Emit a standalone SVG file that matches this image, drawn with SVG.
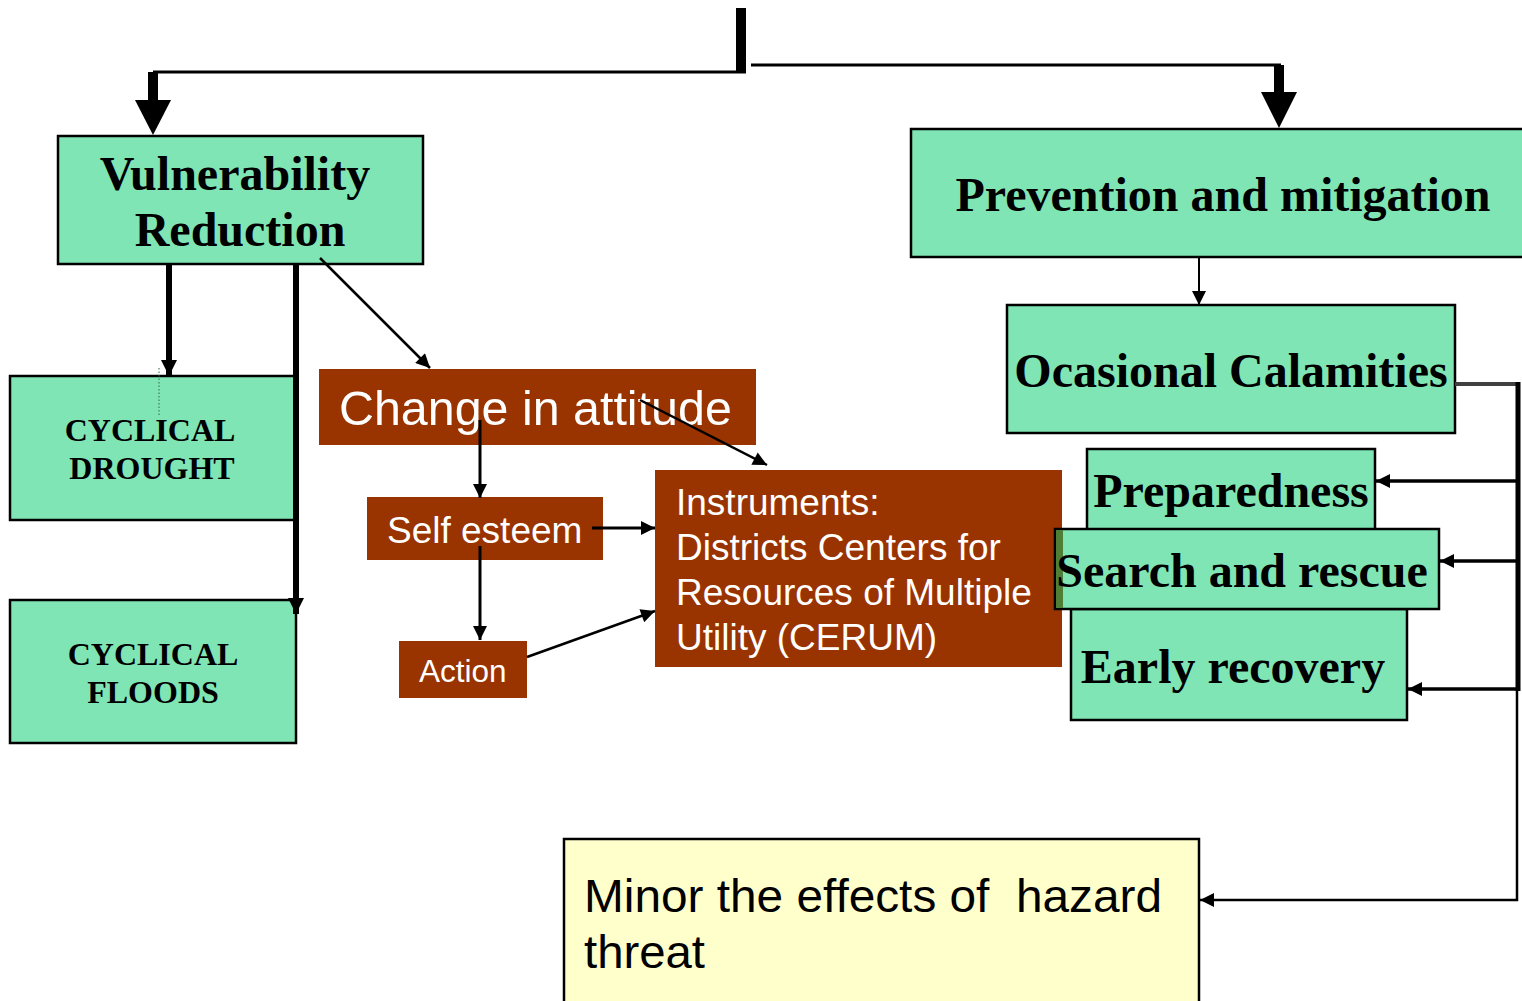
<svg xmlns="http://www.w3.org/2000/svg" width="1522" height="1001" viewBox="0 0 1522 1001">
<style>
.g{fill:#80E5B4;stroke:#000;stroke-width:2.5}
.b{fill:#993300}
.y{fill:#FFFFCC;stroke:#000;stroke-width:2.5}
.st{font-family:"Liberation Serif","Times New Roman",serif;font-weight:bold;fill:#000}
.ss{font-family:"Liberation Sans",Arial,sans-serif;fill:#fff}
.ln{stroke:#000;fill:none}
</style>
<defs>
<marker id="a2" viewBox="0 0 10 10" refX="10" refY="5" markerWidth="17" markerHeight="14" markerUnits="userSpaceOnUse" orient="auto">
<path d="M0,0 L10,5 L0,10 z" fill="#000"/>
</marker>
<marker id="a3" viewBox="0 0 10 10" refX="10" refY="5" markerWidth="18" markerHeight="16" markerUnits="userSpaceOnUse" orient="auto">
<path d="M0,0 L10,5 L0,10 z" fill="#000"/>
</marker>
</defs>

<g id="n-vuln">
<rect class="g" x="58" y="136" width="365" height="128"/>
<text class="st" font-size="48" text-anchor="middle" x="235" y="190">Vulnerability</text>
<text class="st" font-size="48" text-anchor="middle" x="240" y="246">Reduction</text>
</g>
<g id="n-prev">
<rect class="g" x="911" y="129" width="614" height="128"/>
<text class="st" font-size="48" text-anchor="middle" x="1223" y="211">Prevention and mitigation</text>
</g>
<g id="n-ocas">
<rect class="g" x="1007" y="305" width="448" height="128"/>
<text class="st" font-size="48" text-anchor="middle" x="1231" y="387">Ocasional Calamities</text>
</g>
<g id="n-drought">
<rect class="g" x="10" y="376" width="285" height="144"/>
<line x1="159" y1="368" x2="159" y2="416" stroke="#2a6a40" stroke-width="1" stroke-dasharray="1.5,2"/>
<text class="st" font-size="32" text-anchor="middle" x="150" y="441">CYCLICAL</text>
<text class="st" font-size="32" text-anchor="middle" x="152" y="479">DROUGHT</text>
</g>
<g id="n-floods">
<rect class="g" x="10" y="600" width="286" height="143"/>
<text class="st" font-size="32" text-anchor="middle" x="153" y="665">CYCLICAL</text>
<text class="st" font-size="32" text-anchor="middle" x="153" y="703">FLOODS</text>
</g>
<g id="n-change">
<rect class="b" x="319" y="369" width="437" height="76"/>
<text class="ss" font-size="48.4" x="339" y="425">Change in attitude</text>
</g>
<g id="n-self">
<rect class="b" x="367" y="497" width="236" height="63"/>
<text class="ss" font-size="37" x="387" y="543">Self esteem</text>
</g>
<g id="n-action">
<rect class="b" x="399" y="641" width="128" height="57"/>
<text class="ss" font-size="31.5" x="419" y="682">Action</text>
</g>
<g id="n-instr">
<rect class="b" x="655" y="470" width="407" height="197"/>
<text class="ss" font-size="37" x="676" y="515">Instruments:</text>
<text class="ss" font-size="37" x="676" y="560">Districts Centers for</text>
<text class="ss" font-size="37" x="676" y="605">Resources of Multiple</text>
<text class="ss" font-size="37" x="676" y="650">Utility (CERUM)</text>
</g>
<g id="n-prep">
<rect class="g" x="1087" y="449" width="288" height="81"/>
<text class="st" font-size="48" text-anchor="middle" x="1231" y="507">Preparedness</text>
</g>
<g id="n-early">
<rect class="g" x="1071" y="609" width="336" height="111"/>
<text class="st" font-size="48" text-anchor="middle" x="1233" y="683">Early recovery</text>
</g>
<g id="n-search">
<rect class="g" x="1055" y="529" width="384" height="80"/>
<rect x="1056" y="530" width="7" height="78" fill="#4F7F36"/>
<text class="st" font-size="48" text-anchor="middle" x="1242" y="587">Search and rescue</text>
</g>
<g id="n-minor">
<rect class="y" x="564" y="839" width="635" height="170"/>
<text font-family="Liberation Sans Narrow,Liberation Sans,Arial,sans-serif" font-size="47" fill="#000" x="584" y="912" textLength="578" lengthAdjust="spacingAndGlyphs" xml:space="preserve">Minor the effects of  hazard</text>
<text font-family="Liberation Sans Narrow,Liberation Sans,Arial,sans-serif" font-size="47" fill="#000" x="584" y="968" textLength="121" lengthAdjust="spacingAndGlyphs">threat</text>
</g>

<g id="connectors">
<rect x="736" y="8" width="10" height="64" fill="#000"/>
<line class="ln" stroke-width="3" x1="153" y1="72" x2="746" y2="72"/>
<rect x="148" y="72" width="10" height="30" fill="#000"/>
<polygon points="135,100 171,100 153,135" fill="#000"/>
<line class="ln" stroke-width="3" x1="751" y1="65" x2="1281" y2="65"/>
<rect x="1274" y="65" width="10" height="28" fill="#000"/>
<polygon points="1261,92 1297,92 1279,128" fill="#000"/>
<line class="ln" stroke-width="6" x1="169" y1="265" x2="169" y2="376" marker-end="url(#a3)"/>
<line class="ln" stroke-width="6" x1="296" y1="265" x2="296" y2="614" marker-end="url(#a3)"/>
<line class="ln" stroke-width="2.5" x1="320" y1="258" x2="430" y2="368" marker-end="url(#a2)"/>
<line class="ln" stroke-width="3" x1="480" y1="420" x2="480" y2="498" marker-end="url(#a2)"/>
<line class="ln" stroke-width="3" x1="480" y1="546" x2="480" y2="640" marker-end="url(#a2)"/>
<line class="ln" stroke-width="3" x1="592" y1="528" x2="655" y2="528" marker-end="url(#a2)"/>
<line class="ln" stroke-width="2.5" x1="527" y1="657" x2="655" y2="611" marker-end="url(#a2)"/>
<line class="ln" stroke-width="2.5" x1="640" y1="400" x2="767" y2="465" marker-end="url(#a2)"/>
<line class="ln" stroke-width="2" x1="1199" y1="258" x2="1199" y2="305" marker-end="url(#a2)"/>
<line x1="1455" y1="384" x2="1518" y2="384" stroke="#404040" stroke-width="4"/>
<line class="ln" stroke-width="5" x1="1518" y1="382" x2="1518" y2="691"/>
<line class="ln" stroke-width="3.5" x1="1518" y1="481" x2="1376" y2="481" marker-end="url(#a2)"/>
<line class="ln" stroke-width="3.5" x1="1518" y1="561" x2="1440" y2="561" marker-end="url(#a2)"/>
<line class="ln" stroke-width="3.5" x1="1518" y1="689" x2="1408" y2="689" marker-end="url(#a2)"/>
<polyline class="ln" stroke-width="2.5" points="1517,689 1517,900 1200,900" marker-end="url(#a2)"/>
</g>
</svg>
